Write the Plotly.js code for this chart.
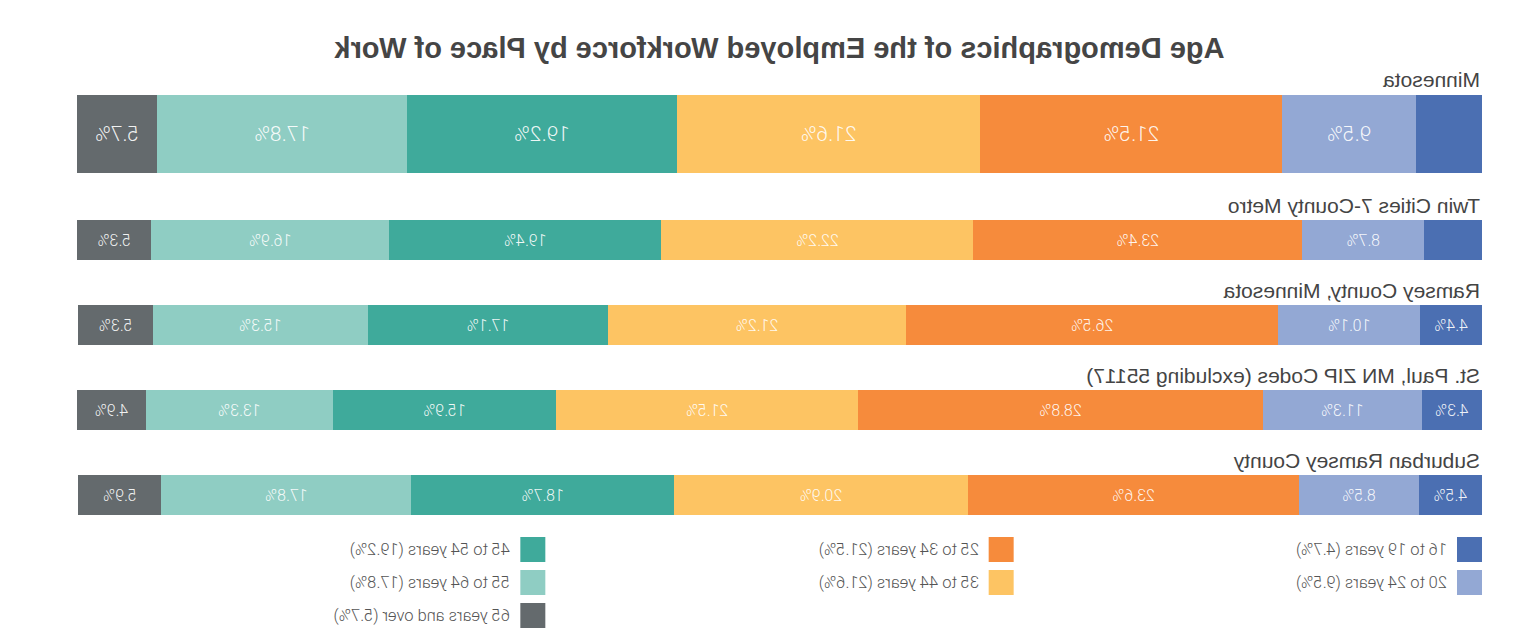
<!DOCTYPE html>
<html>
<head>
<meta charset="utf-8">
<script src="https://cdn.plot.ly/plotly-3.0.1.min.js"></script>
<style>
  html, body { margin: 0; padding: 0; background: #ffffff; }
  #chart { width: 1524px; height: 640px; transform: scaleX(-1); }
</style>
</head>
<body>
<div id="chart"></div>
<script>
// ---- data ----
const stateRegion = ['Minnesota'];
const subRegions = ['Twin Cities 7-County Metro', 'Ramsey County, Minnesota',
  'St. Paul, MN ZIP Codes (excluding 55117)', 'Suburban Ramsey County'];
const ageGroups = ['16 to 19 years', '20 to 24 years', '25 to 34 years', '35 to 44 years',
  '45 to 54 years', '55 to 64 years', '65 years and over'];
const colors = ['#4b6fb2', '#93a8d4', '#f68b3c', '#fdc463', '#3faa9b', '#8fcdc3', '#646a6d'];

// values per age group: [Minnesota] and [Twin Cities, Ramsey, St. Paul, Suburban Ramsey]
const minnesotaValues = [4.7, 9.5, 21.5, 21.6, 19.2, 17.8, 5.7];
const age16to19 = [4.1, 4.4, 4.3, 4.5];
const age20to24 = [8.7, 10.1, 11.3, 8.5];
const age25to34 = [23.4, 26.5, 28.8, 23.6];
const age35to44 = [22.2, 21.2, 21.5, 20.9];
const age45to54 = [19.4, 17.1, 15.9, 18.7];
const age55to64 = [16.9, 15.3, 13.3, 17.8];
const age65over = [5.3, 5.3, 4.9, 5.9];
const subValues = [age16to19, age20to24, age25to34, age35to44, age45to54, age55to64, age65over];

// labels not shown in the original
const hiddenLabels = [['Minnesota', '16 to 19 years'], ['Twin Cities 7-County Metro', '16 to 19 years']];
const isHidden = (region, age) => hiddenLabels.some(h => h[0] === region && h[1] === age);

// ---- traces ----
const traces = [];
const barFontFamily = 'Roboto, "Noto Sans", sans-serif';
const sansFamily = 'Arial, "Liberation Sans", Helvetica, sans-serif';
ageGroups.forEach((age, i) => {
  traces.push({
    type: 'bar', orientation: 'h',
    x: [minnesotaValues[i]], y: stateRegion,
    xaxis: 'x', yaxis: 'y',
    name: age, showlegend: false,
    marker: { color: colors[i], line: { width: 0 } },
    width: 1,
    text: stateRegion.map(r => isHidden(r, age) ? '' : minnesotaValues[i].toFixed(1) + '%'),
    textposition: 'inside', insidetextanchor: 'middle', textangle: 0,
    insidetextfont: { family: barFontFamily, size: 21, color: 'rgba(255,255,255,0.92)', weight: 300 },
    hoverinfo: 'name+x'
  });
  traces.push({
    type: 'bar', orientation: 'h',
    x: subValues[i], y: subRegions,
    xaxis: 'x2', yaxis: 'y2',
    name: age, showlegend: false,
    marker: { color: colors[i], line: { width: 0 } },
    width: 0.47,
    text: subRegions.map((r, k) => isHidden(r, age) ? '' : subValues[i][k].toFixed(1) + '%'),
    textposition: 'inside', insidetextanchor: 'middle', textangle: 0,
    insidetextfont: { family: barFontFamily, size: 16, color: 'rgba(255,255,255,0.92)', weight: 300 },
    hoverinfo: 'name+x'
  });
});

// ---- layout ----
const H = 640;
const py = p => 1 - p / H;   // pixel (from top) to paper fraction (margins are zero vertically)

const annotations = [];
const labelFont = { family: sansFamily, size: 21, color: '#444444' };
stateRegion.forEach(r => annotations.push({
  text: r, xref: 'paper', x: 0, xanchor: 'left', yref: 'y', y: r, yanchor: 'bottom',
  yshift: 41, showarrow: false, font: labelFont
}));
subRegions.forEach(r => annotations.push({
  text: r, xref: 'paper', x: 0, xanchor: 'left', yref: 'y2', y: r, yanchor: 'bottom',
  yshift: 21, showarrow: false, font: labelFont
}));

// custom legend (3 columns) built from the arrays
const legendColumns = [[0, 1], [2, 3], [4, 5, 6]];
const shapes = [];
const plotW = 1524 - 42 - 77;
const sw = 25, rowTop = 537, rowPitch = 33;
legendColumns.forEach((col, c) => {
  col.forEach((gi, r) => {
    const top = rowTop + r * rowPitch;
    shapes.push({
      type: 'rect', xref: 'paper', yref: 'paper',
      x0: c / 3, x1: c / 3 + sw / plotW, y0: py(top + sw), y1: py(top),
      fillcolor: colors[gi], line: { width: 0 }
    });
    annotations.push({
      text: ageGroups[gi] + ' (' + minnesotaValues[gi].toFixed(1) + '%)',
      xref: 'paper', x: c / 3 + (sw + 8) / plotW, xanchor: 'left',
      yref: 'paper', y: py(top + sw / 2), yanchor: 'middle',
      showarrow: false,
      font: { family: barFontFamily, size: 16.5, color: '#555555', weight: 300 }
    });
  });
});

const layout = {
  width: 1524, height: 640,
  margin: { l: 42, r: 77, t: 0, b: 0 },
  paper_bgcolor: '#ffffff', plot_bgcolor: '#ffffff',
  barmode: 'stack',
  showlegend: false,
  title: {
    text: 'Age Demographics of the Employed Workforce by Place of Work',
    xref: 'paper', x: 0.5, xanchor: 'center',
    yref: 'container', y: py(48), yanchor: 'middle',
    font: { family: sansFamily, size: 29, color: '#454545', weight: 'bold' }
  },
  xaxis: { domain: [0, 1], range: [0, 100], visible: false, fixedrange: true },
  yaxis: { domain: [py(173), py(95)], visible: false, type: 'category', range: [-0.5, 0.5], fixedrange: true },
  xaxis2: { domain: [0, 1], range: [0, 100], visible: false, anchor: 'y2', fixedrange: true },
  yaxis2: { domain: [py(537.5), py(197.5)], visible: false, type: 'category',
            categoryorder: 'array', categoryarray: subRegions, range: [3.5, -0.5],
            anchor: 'x2', fixedrange: true },
  annotations: annotations,
  shapes: shapes,
  uniformtext: { mode: false }
};

Plotly.newPlot('chart', traces, layout, { displayModeBar: false, staticPlot: true });
</script>
</body>
</html>
